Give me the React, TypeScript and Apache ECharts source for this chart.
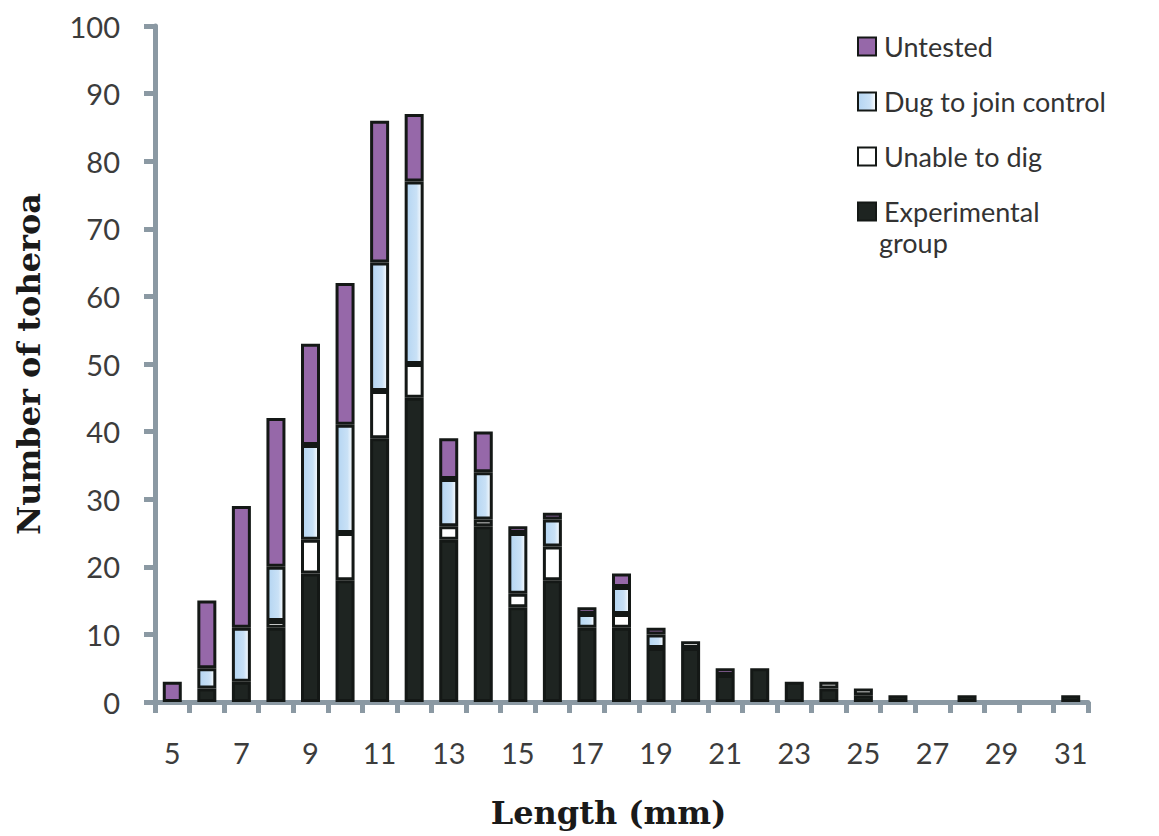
import React, { useEffect, useRef } from 'react';
import * as echarts from 'echarts';

const lengths = ['5','6','7','8','9','10','11','12','13','14','15','16','17','18','19','20','21','22','23','24','25','26','27','28','29','30','31'];
const experimental = [0,2,3,11,19,18,39,45,24,26,14,18,11,11,8,8,4,5,3,2,1,1,0,1,0,0,1];
const unableToDig = [0,0,0,1,5,7,7,5,2,1,2,5,0,2,0,1,0,0,0,1,1,0,0,0,0,0,0];
const dugToJoin = [0,3,8,8,14,16,19,27,7,7,9,4,2,4,2,0,0,0,0,0,0,0,0,0,0,0,0];
const untested = [3,10,18,22,15,21,21,10,6,6,1,1,1,2,1,0,1,0,0,0,0,0,0,0,0,0,0];
const yTicks = { min: 0, max: 100, interval: 10 };

const AXIS_GRAY = '#8b99a3';
const DARK = '#1e2421';
const PURPLE = '#9668a9';
const BORDER = '#141816';

export default function App() {
  const ref = useRef<HTMLDivElement>(null);
  useEffect(() => {
    if (!ref.current) return;
    const chart = echarts.init(ref.current, undefined, { renderer: 'svg' });
    const nz = (a: number[]) => a.map((v) => (v === 0 ? '-' : v));
    const base = {
      type: 'bar',
      stack: 'total',
      barWidth: 19,
    };
    const dugFill = new echarts.graphic.LinearGradient(0, 0, 1, 0, [
      { offset: 0, color: '#b4d5f2' },
      { offset: 0.65, color: '#c9e1f6' },
      { offset: 1, color: '#ffffff' },
    ]);
    chart.setOption({
      animation: false,
      backgroundColor: '#ffffff',
      grid: { left: 155, right: 71, top: 26, bottom: 134, containLabel: false },
      legend: {
        orient: 'vertical',
        left: 852,
        top: 26,
        icon: 'rect',
        itemWidth: 18,
        itemHeight: 18,
        itemGap: 24,
        data: ['Untested', 'Dug to join control', 'Unable to dig', 'Experimental group'],
        formatter: (name: string) => (name === 'Experimental group' ? 'Experimental' : name),
        textStyle: {
          fontFamily: 'Lato',
          fontSize: 27,
          lineHeight: 31,
          color: '#333333',
          padding: [0, 0, 0, 3],
        },
      },
      graphic: [
        {
          type: 'text',
          left: 879,
          top: 229,
          style: { text: 'group', fontFamily: 'Lato', fontSize: 27, fill: '#333333' },
        },
      ],
      xAxis: {
        type: 'category',
        data: lengths,
        name: 'Length (mm)',
        nameLocation: 'middle',
        nameGap: 95,
        nameTextStyle: {
          fontFamily: 'DejaVu Serif',
          fontWeight: 'bold',
          fontSize: 32,
          color: '#1a1a1a',
          padding: [0, 26, 0, 0],
        },
        axisLine: { show: true, lineStyle: { color: AXIS_GRAY, width: 5 } },
        axisTick: { show: true, interval: 0, length: 11, lineStyle: { color: AXIS_GRAY, width: 5 } },
        axisLabel: {
          interval: 1,
          margin: 36,
          fontFamily: 'Lato',
          fontSize: 29,
          color: '#3c3c3c',
        },
        splitLine: { show: false },
      },
      yAxis: {
        type: 'value',
        min: yTicks.min,
        max: yTicks.max,
        interval: yTicks.interval,
        name: 'Number of toheroa',
        nameLocation: 'middle',
        nameGap: 110,
        nameRotate: 90,
        nameTextStyle: {
          fontFamily: 'DejaVu Serif',
          fontWeight: 'bold',
          fontSize: 32,
          color: '#1a1a1a',
        },
        axisLine: { show: true, lineStyle: { color: AXIS_GRAY, width: 5 } },
        axisTick: { show: true, length: 11, lineStyle: { color: AXIS_GRAY, width: 5 } },
        axisLabel: { margin: 35, fontFamily: 'Lato', fontSize: 29, color: '#3c3c3c' },
        splitLine: { show: false },
      },
      series: [
        {
          ...base,
          name: 'Experimental group',
          data: nz(experimental),
          itemStyle: { color: DARK, borderColor: BORDER, borderWidth: 3 },
        },
        {
          ...base,
          name: 'Unable to dig',
          data: nz(unableToDig),
          itemStyle: { color: '#ffffff', borderColor: BORDER, borderWidth: 3 },
        },
        {
          ...base,
          name: 'Dug to join control',
          data: nz(dugToJoin),
          itemStyle: { color: dugFill, borderColor: BORDER, borderWidth: 3 },
        },
        {
          ...base,
          name: 'Untested',
          data: nz(untested),
          itemStyle: { color: PURPLE, borderColor: BORDER, borderWidth: 3 },
        },
      ],
    });
    return () => chart.dispose();
  }, []);
  return (
    <div
      ref={ref}
      style={{ position: 'fixed', left: 0, top: 0, width: 1159, height: 836, background: '#fff' }}
    />
  );
}
